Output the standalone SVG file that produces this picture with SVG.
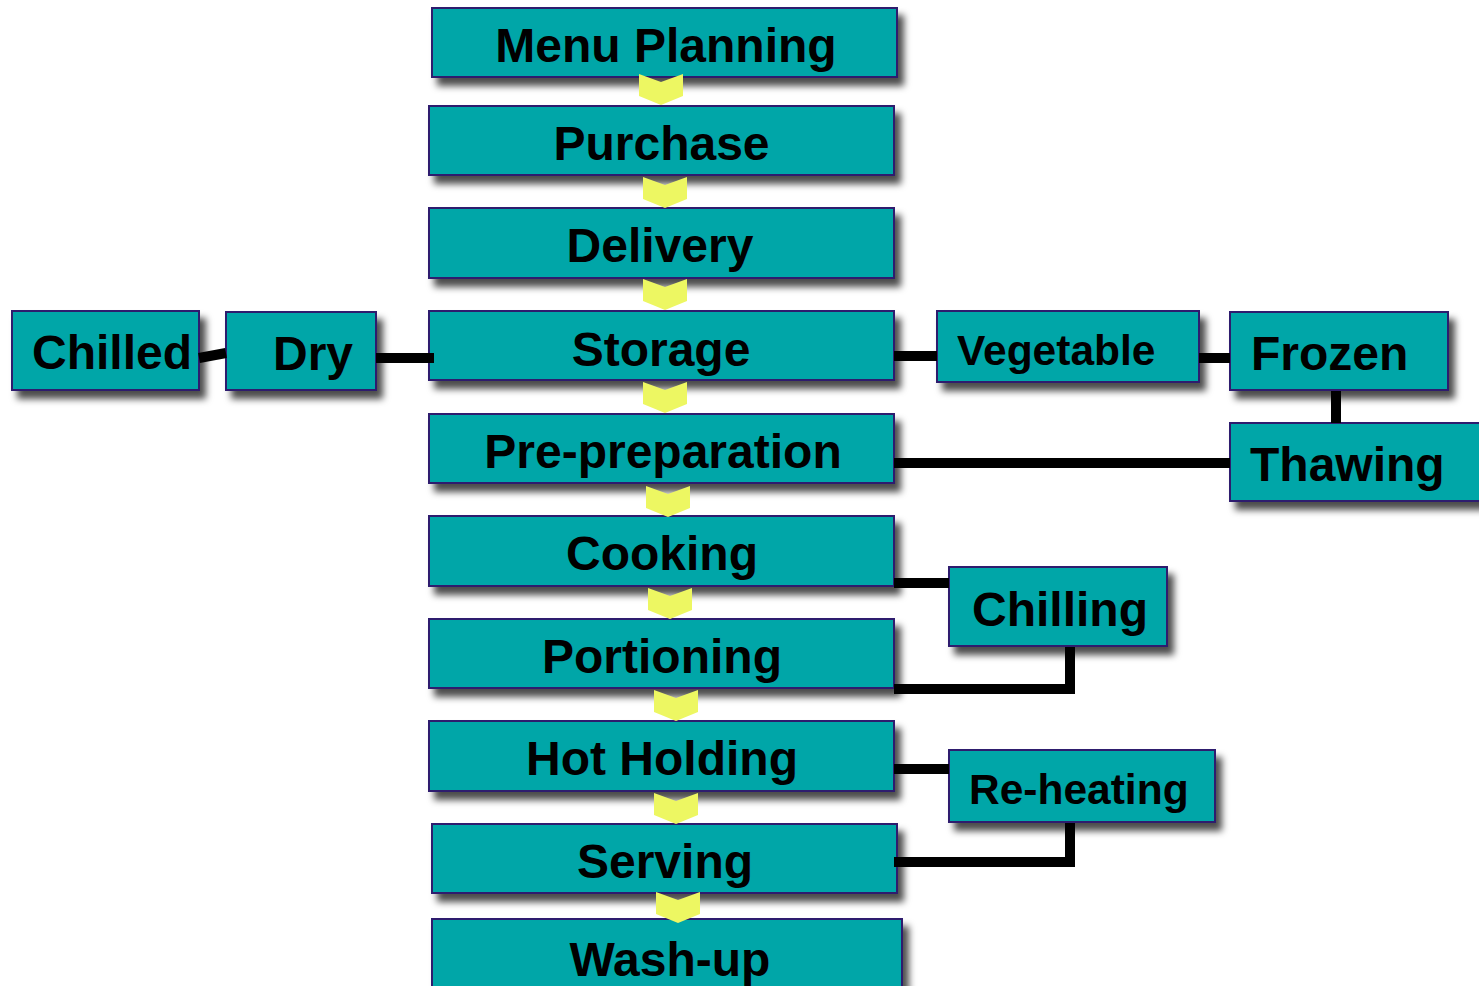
<svg xmlns="http://www.w3.org/2000/svg" xmlns:xlink="http://www.w3.org/1999/xlink" width="1479" height="986" viewBox="0 0 1479 986">
<defs>
<filter id="sh" x="-10%" y="-20%" width="125%" height="160%">
<feDropShadow dx="6" dy="8" stdDeviation="3.5" flood-color="#000" flood-opacity="0.7"/>
</filter>
<path id="chev" d="M-22,0 L0,8 L22,0 L22,22 L0,31 L-22,22 Z" fill="#EDF762"/>
</defs>
<style>
.box{fill:#00A6A8;stroke:#2D1F6E;stroke-width:2;filter:url(#sh)}
.t{font-family:"Liberation Sans",Arial,sans-serif;font-weight:bold;fill:#000;font-size:48px}
.tm{text-anchor:middle}
.s42{font-size:42.5px}
.c{stroke:#000;stroke-width:10;fill:none;stroke-linecap:butt}
</style>
<rect width="1479" height="986" fill="#fff"/>
<g id="n-menu"><rect class="box" x="432" y="8" width="465" height="69"/><text class="t tm" x="666" y="62">Menu Planning</text></g>
<g id="n-purchase"><rect class="box" x="429" y="106" width="465" height="69"/><text class="t tm" x="661.5" y="160">Purchase</text></g>
<g id="n-delivery"><rect class="box" x="429" y="208" width="465" height="70"/><text class="t tm" x="660" y="262">Delivery</text></g>
<g id="n-storage"><rect class="box" x="429" y="311" width="465" height="69"/><text class="t tm" x="661" y="366">Storage</text></g>
<g id="n-prep"><rect class="box" x="429" y="414" width="465" height="69"/><text class="t tm" x="663" y="468">Pre-preparation</text></g>
<g id="n-cooking"><rect class="box" x="429" y="516" width="465" height="70"/><text class="t tm" x="662" y="570">Cooking</text></g>
<g id="n-portioning"><rect class="box" x="429" y="619" width="465" height="69"/><text class="t tm" x="662" y="673">Portioning</text></g>
<g id="n-hot"><rect class="box" x="429" y="721" width="465" height="70"/><text class="t tm" x="662" y="775">Hot Holding</text></g>
<g id="n-serving"><rect class="box" x="432" y="824" width="465" height="69"/><text class="t tm" x="665" y="878">Serving</text></g>
<g id="n-washup"><rect class="box" x="432" y="919" width="470" height="80"/><text class="t tm" x="670" y="976">Wash-up</text></g>
<g id="n-chilled"><rect class="box" x="12" y="311" width="187" height="79"/><text class="t" x="32" y="369">Chilled</text></g>
<g id="n-dry"><rect class="box" x="226" y="312" width="150" height="78"/><text class="t" x="273" y="370">Dry</text></g>
<g id="n-vegetable"><rect class="box" x="937" y="311" width="262" height="71"/><text class="t s42" x="957" y="365">Vegetable</text></g>
<g id="n-frozen"><rect class="box" x="1230" y="312" width="218" height="78"/><text class="t" x="1251" y="370">Frozen</text></g>
<g id="n-thawing"><rect class="box" x="1230" y="423" width="260" height="78"/><text class="t" x="1250" y="481">Thawing</text></g>
<g id="n-chilling"><rect class="box" x="949" y="567" width="218" height="79"/><text class="t" x="972" y="626">Chilling</text></g>
<g id="n-reheating"><rect class="box" x="949" y="750" width="266" height="72"/><text class="t s42" x="969" y="804">Re-heating</text></g>
<g id="connectors">
<path class="c" d="M199,358 L226,353"/>
<path class="c" d="M376,358 L434,358"/>
<path class="c" d="M894,356 L937,356"/>
<path class="c" d="M1199,358 L1230,358"/>
<path class="c" d="M1336,391 L1336,423"/>
<path class="c" d="M894,463 L1230,463"/>
<path class="c" d="M894,583 L949,583"/>
<path class="c" d="M1070,647 L1070,689 L894,689"/>
<path class="c" d="M894,769 L949,769"/>
<path class="c" d="M1070,823 L1070,862 L894,862"/>
</g>
<g id="chevrons">
<use xlink:href="#chev" x="661" y="74"/>
<use xlink:href="#chev" x="665" y="177"/>
<use xlink:href="#chev" x="665" y="279"/>
<use xlink:href="#chev" x="665" y="382"/>
<use xlink:href="#chev" x="668" y="486"/>
<use xlink:href="#chev" x="670" y="588"/>
<use xlink:href="#chev" x="676" y="690"/>
<use xlink:href="#chev" x="676" y="793"/>
<use xlink:href="#chev" x="678" y="892"/>
</g>
</svg>
